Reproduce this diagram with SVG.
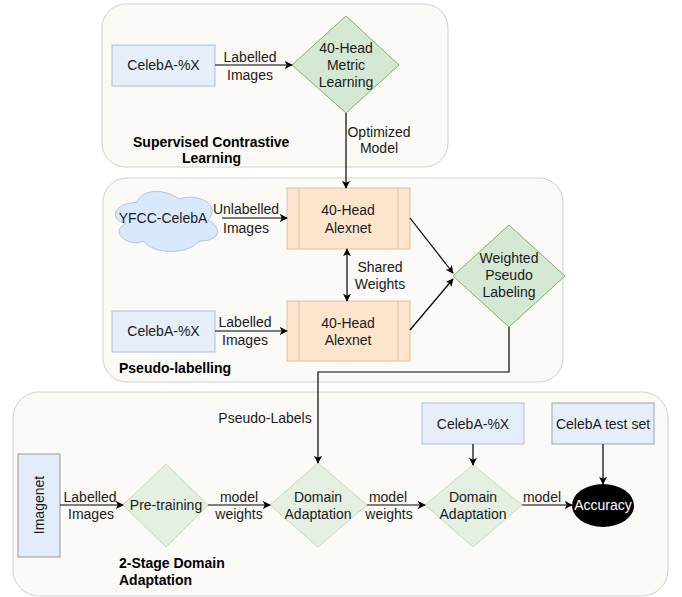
<svg xmlns="http://www.w3.org/2000/svg" width="682" height="597" viewBox="0 0 682 597">
<defs>
<style>
text{font-family:"Liberation Sans",Arial,sans-serif;font-size:14px;fill:#1a1a1a;text-anchor:middle}
.b{font-weight:bold;text-anchor:start;fill:#000}
.cont{fill:#fbfaf6;stroke:#d0d0d0;stroke-width:1}
.blue{fill:#e5eef9;stroke:#a8bfdf;stroke-width:1}
.grn{fill:#d5e8d4;stroke:#82b366;stroke-width:1}
.lgrn{fill:#e5efe2;stroke:#c3dcba;stroke-width:1}
.org{fill:#fde5cd;stroke:#d9c0a8;stroke-width:1}
.ln{fill:none;stroke:#000;stroke-width:1.2}
</style>
<marker id="ah" viewBox="0 0 10 10" refX="9" refY="5" markerWidth="8" markerHeight="8" orient="auto-start-reverse" markerUnits="userSpaceOnUse">
<path d="M0,0 L10,5 L0,10 L2.5,5 Z" fill="#000"/>
</marker>
</defs>

<g id="containers">
<rect class="cont" x="102" y="4" width="346" height="163" rx="24"/>
<rect class="cont" x="103" y="178" width="460" height="204" rx="24"/>
<rect class="cont" x="13" y="392" width="655" height="204" rx="26"/>
<text class="b" x="133" y="147">Supervised Contrastive</text>
<text class="b" x="182" y="163">Learning</text>
<text class="b" x="119" y="373">Pseudo-labelling</text>
<text class="b" x="119" y="568">2-Stage Domain</text>
<text class="b" x="119" y="585">Adaptation</text>
</g>

<g id="celeba1">
<rect class="blue" x="112" y="45" width="103" height="41"/>
<text x="163.5" y="70">CelebA-%X</text>
</g>
<g id="metric">
<polygon class="grn" points="346,16 399,65 346,113 292,65"/>
<text x="346" y="53">40-Head</text>
<text x="346" y="70">Metric</text>
<text x="346" y="87">Learning</text>
</g>

<g id="yfcc">
<path class="blue" style="fill:#dae8fc;stroke:#a9c4eb" d="M136.5,202.5 C113.7,202.5 108,220 126.24,223.5 C108,231.2 128.52,248 143.34,241 C153.6,255 187.8,255 199.2,241 C222,241 222,227 207.75,220 C222,206 199.2,192 179.25,199 C165,188.5 142.2,188.5 136.5,202.5 Z"/>
<text x="163" y="223">YFCC-CelebA</text>
</g>
<g id="alexnet1">
<rect class="org" x="287" y="188" width="123" height="61"/>
<line class="org" x1="299" y1="188" x2="299" y2="249"/>
<line class="org" x1="398" y1="188" x2="398" y2="249"/>
<text x="348" y="215">40-Head</text>
<text x="348" y="233">Alexnet</text>
</g>
<g id="celeba2">
<rect class="blue" x="112" y="311" width="103" height="41"/>
<text x="163.5" y="336">CelebA-%X</text>
</g>
<g id="alexnet2">
<rect class="org" x="287" y="301" width="123" height="60"/>
<line class="org" x1="299" y1="301" x2="299" y2="361"/>
<line class="org" x1="398" y1="301" x2="398" y2="361"/>
<text x="348" y="328">40-Head</text>
<text x="348" y="345">Alexnet</text>
</g>
<g id="weighted">
<polygon class="grn" points="509,225 565,276 509,327 453,276"/>
<text x="509" y="263">Weighted</text>
<text x="509" y="280">Pseudo</text>
<text x="509" y="297">Labeling</text>
</g>

<g id="imagenet">
<rect class="blue" style="fill:#e2ecfa;stroke:#9a9a9a" x="18" y="454" width="42" height="103"/>
<text transform="translate(44,505) rotate(-90)">Imagenet</text>
</g>
<g id="pretraining">
<polygon class="lgrn" points="166,464 208,505 166,547 123,505"/>
<text x="166" y="510">Pre-training</text>
</g>
<g id="da1">
<polygon class="lgrn" points="318,463 367,505 318,547 270,505"/>
<text x="318" y="502">Domain</text>
<text x="318" y="519">Adaptation</text>
</g>
<g id="celeba3">
<rect class="blue" x="422" y="403" width="102" height="41"/>
<text x="473" y="429">CelebA-%X</text>
</g>
<g id="da2">
<polygon class="lgrn" points="473,465 522,505 473,547 425,505"/>
<text x="473" y="502">Domain</text>
<text x="473" y="519">Adaptation</text>
</g>
<g id="testset">
<rect class="blue" style="stroke:#9aa6b4" x="552" y="403" width="102" height="41"/>
<text x="603" y="429">CelebA test set</text>
</g>
<g id="accuracy">
<ellipse cx="603" cy="505.5" rx="31" ry="21.5" fill="#000"/>
<text x="603" y="510" style="fill:#fff">Accuracy</text>
</g>

<g id="connectors">
<line class="ln" x1="215" y1="65" x2="292" y2="65" marker-end="url(#ah)"/>
<line class="ln" x1="346" y1="113" x2="346" y2="188" marker-end="url(#ah)"/>
<line class="ln" x1="222" y1="218" x2="287" y2="218" marker-end="url(#ah)"/>
<line class="ln" x1="215" y1="331" x2="287" y2="331" marker-end="url(#ah)"/>
<line class="ln" x1="347" y1="249" x2="347" y2="301" marker-start="url(#ah)" marker-end="url(#ah)"/>
<line class="ln" x1="410" y1="218" x2="453" y2="273" marker-end="url(#ah)"/>
<line class="ln" x1="410" y1="330" x2="453" y2="279" marker-end="url(#ah)"/>
<polyline class="ln" points="509,327 509,372 318,372 318,463" marker-end="url(#ah)"/>
<line class="ln" x1="60" y1="505" x2="123" y2="505" marker-end="url(#ah)"/>
<line class="ln" x1="208" y1="505" x2="270" y2="505" marker-end="url(#ah)"/>
<line class="ln" x1="367" y1="505" x2="425" y2="505" marker-end="url(#ah)"/>
<line class="ln" x1="473" y1="444" x2="473" y2="465" marker-end="url(#ah)"/>
<line class="ln" x1="522" y1="505" x2="572" y2="505" marker-end="url(#ah)"/>
<line class="ln" x1="603" y1="444" x2="603" y2="484" marker-end="url(#ah)"/>
<text x="250" y="62">Labelled</text>
<text x="250" y="80">Images</text>
<text x="379" y="137">Optimized</text>
<text x="379" y="153">Model</text>
<text x="246" y="214">Unlabelled</text>
<text x="246" y="233">Images</text>
<text x="245" y="327">Labelled</text>
<text x="245" y="345">Images</text>
<text x="380" y="272">Shared</text>
<text x="380" y="289">Weights</text>
<text x="265" y="423">Pseudo-Labels</text>
<text x="90" y="502">Labelled</text>
<text x="91" y="519">Images</text>
<text x="239" y="502">model</text>
<text x="239" y="519">weights</text>
<text x="388" y="502">model</text>
<text x="389" y="519">weights</text>
<text x="542" y="502">model</text>
</g>
</svg>
